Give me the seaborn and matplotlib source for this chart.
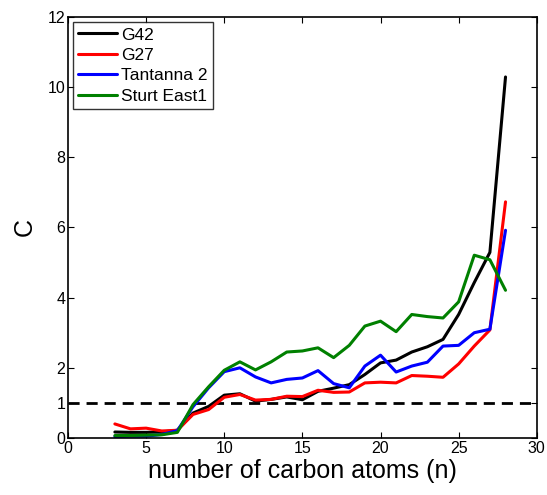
import seaborn as sns
import pandas as pd
import matplotlib.pyplot as plt

# data
n_carbon = list(range(3, 29))
g42 = [0.17, 0.16, 0.16, 0.17, 0.22, 0.71, 0.90, 1.22, 1.26, 1.05, 1.10, 1.17, 1.09,
       1.33, 1.42, 1.52, 1.81, 2.14, 2.22, 2.45, 2.60, 2.81, 3.52, 4.43, 5.29, 10.29]
g27 = [0.40, 0.26, 0.28, 0.20, 0.22, 0.67, 0.81, 1.16, 1.24, 1.08, 1.10, 1.19, 1.18,
       1.36, 1.30, 1.31, 1.57, 1.59, 1.57, 1.78, 1.76, 1.73, 2.11, 2.62, 3.08, 6.73]
tantanna2 = [0.04, 0.05, 0.05, 0.10, 0.21, 0.89, 1.43, 1.89, 2.00, 1.74, 1.57, 1.67, 1.71,
             1.92, 1.55, 1.43, 2.05, 2.36, 1.88, 2.05, 2.16, 2.62, 2.64, 3.00, 3.10, 5.92]
sturt_east1 = [0.07, 0.07, 0.08, 0.09, 0.16, 0.95, 1.46, 1.93, 2.17, 1.94, 2.17, 2.45, 2.48,
               2.57, 2.29, 2.64, 3.19, 3.33, 3.03, 3.52, 3.46, 3.42, 3.88, 5.21, 5.08, 4.21]
names = ["G42", "G27", "Tantanna 2", "Sturt East1"]
colours = ["black", "red", "blue", "green"]

df = pd.concat([pd.DataFrame({"n": n_carbon, "C": vals, "site": name})
                for name, vals in zip(names, [g42, g27, tantanna2, sturt_east1])])

sns.set_style("ticks")
plt.rcParams["font.family"] = ["Liberation Sans", "DejaVu Sans"]
plt.rcParams["text.color"] = "black"
plt.rcParams["axes.labelcolor"] = "black"
plt.rcParams["xtick.color"] = "black"
plt.rcParams["ytick.color"] = "black"

fig = plt.figure(figsize=(5.47, 4.95), dpi=100)
ax = fig.add_axes([0.1243, 0.1152, 0.857, 0.8505])

sns.lineplot(data=df, x="n", y="C", hue="site", hue_order=names,
             palette=dict(zip(names, colours)), linewidth=2.2, ax=ax)
ax.axhline(1, color="black", linestyle="--", linewidth=2, dashes=(4, 2.5), zorder=1)

ax.set_xlim(0, 30)
ax.set_ylim(0, 12)
ax.set_xticks([0, 5, 10, 15, 20, 25, 30])
ax.set_yticks([0, 1, 2, 4, 6, 8, 10, 12])
ax.tick_params(direction="in", top=True, right=True, labelsize=11.5, length=4, width=0.8, pad=2)
for sp in ax.spines.values():
    sp.set_visible(True)
    sp.set_linewidth(1.2)
    sp.set_color("black")

ax.set_xlabel("number of carbon atoms (n)", fontsize=18, labelpad=2)
ax.set_ylabel("C", fontsize=18, labelpad=8)

leg = ax.legend(loc="upper left", fontsize=12.5, frameon=True, fancybox=False,
                handlelength=2.2, handletextpad=0.25, borderpad=0.3, labelspacing=0.3,
                borderaxespad=0.3)
leg.get_frame().set_edgecolor("black")
leg.get_frame().set_linewidth(1.0)
for t in leg.get_texts():
    t.set_color("black")

plt.savefig("out.png")
